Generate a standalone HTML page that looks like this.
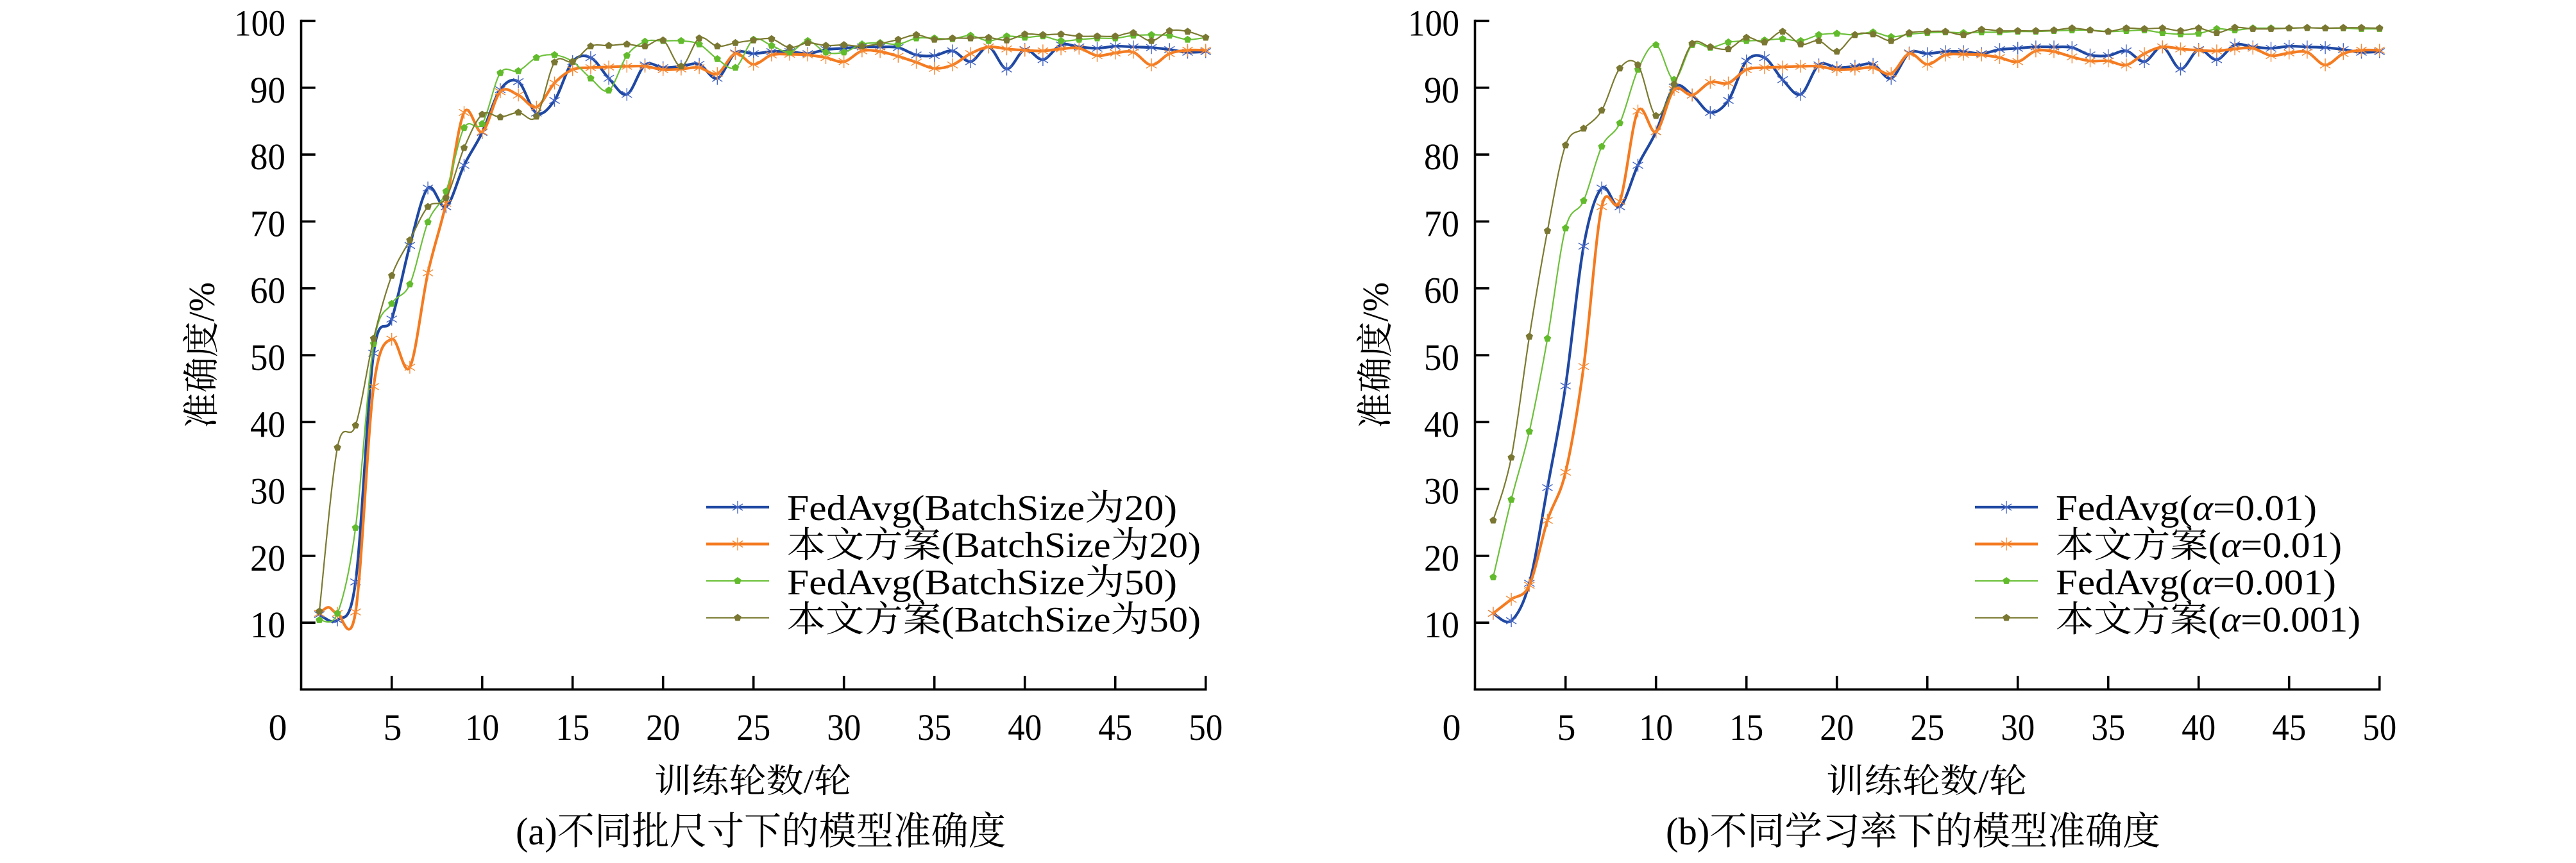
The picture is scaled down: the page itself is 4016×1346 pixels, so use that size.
<!DOCTYPE html>
<html>
<head>
<meta charset="utf-8">
<style>
html,body{margin:0;padding:0;background:#fff;}
svg{display:block;}
text{font-family:"Liberation Serif","Noto Serif CJK SC","Noto Serif CJK","Noto Serif SC","Noto Serif CJK JP",serif;fill:#000;}
</style>
</head>
<body>
<svg id="s" xmlns="http://www.w3.org/2000/svg" width="4016" height="1346" viewBox="0 0 4016 1346" font-family="'Liberation Serif','Noto Serif CJK SC','Noto Serif CJK','Noto Serif SC','Noto Serif CJK JP',serif">
<rect x="0" y="0" width="4016" height="1346" fill="#fff"/>

<!-- LEFT AXES -->
<g stroke="#000" fill="none" stroke-width="3.6">
  <line x1="469.5" y1="30.8" x2="469.5" y2="1077"/>
  <line x1="467.7" y1="1075.3" x2="1881.5" y2="1075.3"/>
  <line x1="469.5" y1="971.2" x2="491.7" y2="971.2"/>
  <line x1="469.5" y1="866.9" x2="491.7" y2="866.9"/>
  <line x1="469.5" y1="762.6" x2="491.7" y2="762.6"/>
  <line x1="469.5" y1="658.3" x2="491.7" y2="658.3"/>
  <line x1="469.5" y1="554.0" x2="491.7" y2="554.0"/>
  <line x1="469.5" y1="449.7" x2="491.7" y2="449.7"/>
  <line x1="469.5" y1="345.4" x2="491.7" y2="345.4"/>
  <line x1="469.5" y1="241.1" x2="491.7" y2="241.1"/>
  <line x1="469.5" y1="136.8" x2="491.7" y2="136.8"/>
  <line x1="469.5" y1="32.5" x2="491.7" y2="32.5"/>
  <line x1="610.7" y1="1054" x2="610.7" y2="1075"/>
  <line x1="751.7" y1="1054" x2="751.7" y2="1075"/>
  <line x1="892.7" y1="1054" x2="892.7" y2="1075"/>
  <line x1="1033.7" y1="1054" x2="1033.7" y2="1075"/>
  <line x1="1174.7" y1="1054" x2="1174.7" y2="1075"/>
  <line x1="1315.7" y1="1054" x2="1315.7" y2="1075"/>
  <line x1="1456.7" y1="1054" x2="1456.7" y2="1075"/>
  <line x1="1597.7" y1="1054" x2="1597.7" y2="1075"/>
  <line x1="1738.7" y1="1054" x2="1738.7" y2="1075"/>
  <line x1="1879.7" y1="1054" x2="1879.7" y2="1075"/>
</g>

<!-- RIGHT AXES -->
<g stroke="#000" fill="none" stroke-width="3.6">
  <line x1="2299.5" y1="30.8" x2="2299.5" y2="1077"/>
  <line x1="2297.7" y1="1075.3" x2="3711.5" y2="1075.3"/>
  <line x1="2299.5" y1="971.2" x2="2321.7" y2="971.2"/>
  <line x1="2299.5" y1="866.9" x2="2321.7" y2="866.9"/>
  <line x1="2299.5" y1="762.6" x2="2321.7" y2="762.6"/>
  <line x1="2299.5" y1="658.3" x2="2321.7" y2="658.3"/>
  <line x1="2299.5" y1="554.0" x2="2321.7" y2="554.0"/>
  <line x1="2299.5" y1="449.7" x2="2321.7" y2="449.7"/>
  <line x1="2299.5" y1="345.4" x2="2321.7" y2="345.4"/>
  <line x1="2299.5" y1="241.1" x2="2321.7" y2="241.1"/>
  <line x1="2299.5" y1="136.8" x2="2321.7" y2="136.8"/>
  <line x1="2299.5" y1="32.5" x2="2321.7" y2="32.5"/>
  <line x1="2440.7" y1="1054" x2="2440.7" y2="1075"/>
  <line x1="2581.7" y1="1054" x2="2581.7" y2="1075"/>
  <line x1="2722.7" y1="1054" x2="2722.7" y2="1075"/>
  <line x1="2863.7" y1="1054" x2="2863.7" y2="1075"/>
  <line x1="3004.7" y1="1054" x2="3004.7" y2="1075"/>
  <line x1="3145.7" y1="1054" x2="3145.7" y2="1075"/>
  <line x1="3286.7" y1="1054" x2="3286.7" y2="1075"/>
  <line x1="3427.7" y1="1054" x2="3427.7" y2="1075"/>
  <line x1="3568.7" y1="1054" x2="3568.7" y2="1075"/>
  <line x1="3709.7" y1="1054" x2="3709.7" y2="1075"/>
</g>

<!-- LEFT Y TICK LABELS -->
<g font-size="58" text-anchor="end">
  <text x="445" y="55.5" textLength="80" lengthAdjust="spacingAndGlyphs">100</text>
  <text x="445" y="159.8" textLength="55" lengthAdjust="spacingAndGlyphs">90</text>
  <text x="445" y="264.1" textLength="55" lengthAdjust="spacingAndGlyphs">80</text>
  <text x="445" y="368.4" textLength="55" lengthAdjust="spacingAndGlyphs">70</text>
  <text x="445" y="472.7" textLength="55" lengthAdjust="spacingAndGlyphs">60</text>
  <text x="445" y="577.0" textLength="55" lengthAdjust="spacingAndGlyphs">50</text>
  <text x="445" y="681.3" textLength="55" lengthAdjust="spacingAndGlyphs">40</text>
  <text x="445" y="785.6" textLength="55" lengthAdjust="spacingAndGlyphs">30</text>
  <text x="445" y="889.9" textLength="55" lengthAdjust="spacingAndGlyphs">20</text>
  <text x="445" y="994.2" textLength="55" lengthAdjust="spacingAndGlyphs">10</text>
</g>
<!-- RIGHT Y TICK LABELS -->
<g font-size="58" text-anchor="end">
  <text x="2275" y="55.5" textLength="80" lengthAdjust="spacingAndGlyphs">100</text>
  <text x="2275" y="159.8" textLength="55" lengthAdjust="spacingAndGlyphs">90</text>
  <text x="2275" y="264.1" textLength="55" lengthAdjust="spacingAndGlyphs">80</text>
  <text x="2275" y="368.4" textLength="55" lengthAdjust="spacingAndGlyphs">70</text>
  <text x="2275" y="472.7" textLength="55" lengthAdjust="spacingAndGlyphs">60</text>
  <text x="2275" y="577.0" textLength="55" lengthAdjust="spacingAndGlyphs">50</text>
  <text x="2275" y="681.3" textLength="55" lengthAdjust="spacingAndGlyphs">40</text>
  <text x="2275" y="785.6" textLength="55" lengthAdjust="spacingAndGlyphs">30</text>
  <text x="2275" y="889.9" textLength="55" lengthAdjust="spacingAndGlyphs">20</text>
  <text x="2275" y="994.2" textLength="55" lengthAdjust="spacingAndGlyphs">10</text>
</g>

<!-- LEFT X TICK LABELS -->
<g font-size="58" text-anchor="middle">
  <text x="433" y="1154">0</text>
  <text x="612" y="1154">5</text>
  <text x="751.7" y="1154" textLength="53" lengthAdjust="spacingAndGlyphs">10</text>
  <text x="892.7" y="1154" textLength="53" lengthAdjust="spacingAndGlyphs">15</text>
  <text x="1033.7" y="1154" textLength="53" lengthAdjust="spacingAndGlyphs">20</text>
  <text x="1174.7" y="1154" textLength="53" lengthAdjust="spacingAndGlyphs">25</text>
  <text x="1315.7" y="1154" textLength="53" lengthAdjust="spacingAndGlyphs">30</text>
  <text x="1456.7" y="1154" textLength="53" lengthAdjust="spacingAndGlyphs">35</text>
  <text x="1597.7" y="1154" textLength="53" lengthAdjust="spacingAndGlyphs">40</text>
  <text x="1738.7" y="1154" textLength="53" lengthAdjust="spacingAndGlyphs">45</text>
  <text x="1879.7" y="1154" textLength="53" lengthAdjust="spacingAndGlyphs">50</text>
</g>
<!-- RIGHT X TICK LABELS -->
<g font-size="58" text-anchor="middle">
  <text x="2263" y="1154">0</text>
  <text x="2442" y="1154">5</text>
  <text x="2581.7" y="1154" textLength="53" lengthAdjust="spacingAndGlyphs">10</text>
  <text x="2722.7" y="1154" textLength="53" lengthAdjust="spacingAndGlyphs">15</text>
  <text x="2863.7" y="1154" textLength="53" lengthAdjust="spacingAndGlyphs">20</text>
  <text x="3004.7" y="1154" textLength="53" lengthAdjust="spacingAndGlyphs">25</text>
  <text x="3145.7" y="1154" textLength="53" lengthAdjust="spacingAndGlyphs">30</text>
  <text x="3286.7" y="1154" textLength="53" lengthAdjust="spacingAndGlyphs">35</text>
  <text x="3427.7" y="1154" textLength="53" lengthAdjust="spacingAndGlyphs">40</text>
  <text x="3568.7" y="1154" textLength="53" lengthAdjust="spacingAndGlyphs">45</text>
  <text x="3709.7" y="1154" textLength="53" lengthAdjust="spacingAndGlyphs">50</text>
</g>

<!-- AXIS TITLES -->
<text x="1173.5" y="1236" font-size="52" text-anchor="middle" textLength="307" lengthAdjust="spacingAndGlyphs">训练轮数/轮</text>
<text x="3003.5" y="1236" font-size="52" text-anchor="middle" textLength="313" lengthAdjust="spacingAndGlyphs">训练轮数/轮</text>
<text transform="translate(333.5,554) rotate(-90)" font-size="57" text-anchor="middle" textLength="228" lengthAdjust="spacingAndGlyphs">准确度/%</text>
<text transform="translate(2163.5,554) rotate(-90)" font-size="57" text-anchor="middle" textLength="228" lengthAdjust="spacingAndGlyphs">准确度/%</text>

<!-- CAPTIONS -->
<text x="1186" y="1317" font-size="60" text-anchor="middle" textLength="764" lengthAdjust="spacingAndGlyphs">(a)不同批尺寸下的模型准确度</text>
<text x="2982.5" y="1317" font-size="60" text-anchor="middle" textLength="771" lengthAdjust="spacingAndGlyphs">(b)不同学习率下的模型准确度</text>

<!-- DATA LAYER -->
<g id="data"></g>

<!-- LEGENDS -->
<g stroke-linecap="butt">
  <line x1="1101" y1="791" x2="1199" y2="791" stroke="#1f48a3" stroke-width="4.2"/>
  <line x1="1101" y1="848.5" x2="1199" y2="848.5" stroke="#f47b20" stroke-width="4.2"/>
  <line x1="1101" y1="906" x2="1199" y2="906" stroke="#6cc03a" stroke-width="2.2"/>
  <line x1="1101" y1="963.5" x2="1199" y2="963.5" stroke="#7a7a30" stroke-width="2.2"/>
  <line x1="3079" y1="791" x2="3177" y2="791" stroke="#1f48a3" stroke-width="4.2"/>
  <line x1="3079" y1="848.5" x2="3177" y2="848.5" stroke="#f47b20" stroke-width="4.2"/>
  <line x1="3079" y1="906" x2="3177" y2="906" stroke="#6cc03a" stroke-width="2.2"/>
  <line x1="3079" y1="963.5" x2="3177" y2="963.5" stroke="#7a7a30" stroke-width="2.2"/>
</g>
<g id="legm"></g>
<g font-size="56">
  <text x="1227" y="811" textLength="608" lengthAdjust="spacingAndGlyphs">FedAvg(BatchSize为20)</text>
  <text x="1227" y="869" textLength="645" lengthAdjust="spacingAndGlyphs">本文方案(BatchSize为20)</text>
  <text x="1227" y="927" textLength="608" lengthAdjust="spacingAndGlyphs">FedAvg(BatchSize为50)</text>
  <text x="1227" y="985" textLength="645" lengthAdjust="spacingAndGlyphs">本文方案(BatchSize为50)</text>

  <text x="3205" y="811" textLength="407" lengthAdjust="spacingAndGlyphs">FedAvg(<tspan font-style="italic">α</tspan>=0.01)</text>
  <text x="3205" y="869" textLength="446" lengthAdjust="spacingAndGlyphs">本文方案(<tspan font-style="italic">α</tspan>=0.01)</text>
  <text x="3205" y="927" textLength="437" lengthAdjust="spacingAndGlyphs">FedAvg(<tspan font-style="italic">α</tspan>=0.001)</text>
  <text x="3205" y="985" textLength="475" lengthAdjust="spacingAndGlyphs">本文方案(<tspan font-style="italic">α</tspan>=0.001)</text>
</g>
</svg>

<script>
(function(){
var NS="http://www.w3.org/2000/svg";
function X(e,off){return 469.7+off+28.2*e;}
function Y(v){return 1075.5-10.43*v;}
function pathD(pts){
  var d="M"+pts[0][0].toFixed(1)+","+pts[0][1].toFixed(1);
  for(var i=0;i<pts.length-1;i++){
    var p0=pts[i>0?i-1:i],p1=pts[i],p2=pts[i+1],p3=pts[i+2<pts.length?i+2:i+1];
    var c1x=p1[0]+(p2[0]-p0[0])/6,c1y=p1[1]+(p2[1]-p0[1])/6;
    var c2x=p2[0]-(p3[0]-p1[0])/6,c2y=p2[1]-(p3[1]-p1[1])/6;
    d+=" C"+c1x.toFixed(1)+","+c1y.toFixed(1)+" "+c2x.toFixed(1)+","+c2y.toFixed(1)+" "+p2[0].toFixed(1)+","+p2[1].toFixed(1);
  }
  return d;
}
function el(tag,attrs,parent){var e=document.createElementNS(NS,tag);for(var k in attrs)e.setAttribute(k,attrs[k]);parent.appendChild(e);return e;}
function asterisk(x,y){
  return "M"+x+","+(y-10)+" V"+(y+10)+" M"+(x-8)+","+(y-5)+" L"+(x+8)+","+(y+5)+" M"+(x-8)+","+(y+5)+" L"+(x+8)+","+(y-5);
}
function pent(x,y,r){
  var s="";for(var k=0;k<5;k++){var a=(-90+72*k)*Math.PI/180;s+=(x+r*Math.cos(a)).toFixed(1)+","+(y+r*Math.sin(a)).toFixed(1)+" ";}
  return s;
}
var blueLate=[93.4,93.0,93.2,93.5,91.4,95.2,95.1,95.4,95.4,95.1,95.7,95.9,96.1,96.1,96.0,94.9,94.8,95.5,93.9,96.1,92.8,95.7,94.2,96.4,96.1,95.9,96.2,96.1,96.0,95.7,95.3,95.4];
var orangeLate=[93.2,92.7,92.8,93.0,92.1,95.1,93.5,94.9,95.0,94.9,94.5,93.9,95.5,95.4,94.7,93.8,92.9,93.4,95.1,96.1,95.8,95.6,95.5,95.8,95.9,94.8,95.2,95.3,93.4,95.1,95.6,95.6];
var orangeLateR=orangeLate.slice();orangeLateR[33-19]=94.6;orangeLateR[34-19]=94.0;orangeLateR[35-19]=94.0;orangeLateR[36-19]=93.4;

var C={blue:"#1f48a3",orange:"#f47b20",green:"#6cc03a",olive:"#7a7a30"};
var M={blue:"#4566c4",orange:"#f78a35",green:"#62bb2c",olive:"#7a7732"};

var series=[
 {off:0,key:"blue",w:4.2,m:"a",v:[11.2,10.4,16.1,50.3,55.4,66.4,75.0,72.2,78.4,83.3,89.7,90.9,86.2,88.1,93.9,94.5,91.4,89.0].concat(blueLate)},
 {off:0,key:"orange",w:4.2,m:"a",v:[11.4,11.4,11.6,45.3,52.4,48.2,62.3,72.7,86.3,83.4,89.4,88.9,87.1,90.7,92.7,93.0,93.1,93.2].concat(orangeLate),extra:[[1.5,12.3]]},
 {off:0,key:"green",w:2.2,m:"p",v:[10.4,11.4,24.2,51.7,57.7,60.6,69.9,74.5,84.0,84.6,92.2,92.5,94.5,94.9,93.9,91.4,89.6,94.8,96.9,97.0,97.0,96.5,94.3,93.0,97.2,96.3,95.3,97.0,95.3,95.3,96.5,96.7,96.5,97.4,97.4,97.3,97.8,97.0,97.7,97.5,97.7,97.0,97.2,97.4,97.4,97.8,97.9,97.8,97.2,97.5]},
 {off:0,key:"olive",w:2.2,m:"p",v:[11.7,36.2,39.5,52.5,61.9,67.2,72.2,73.5,81.0,86.0,85.6,86.3,85.7,93.8,93.9,96.2,96.3,96.5,96.2,97.1,93.2,97.4,96.2,96.7,97.1,97.3,96.0,96.7,96.3,96.4,96.2,96.6,97.2,97.9,97.2,97.4,97.4,97.5,97.1,98.0,97.9,98.0,97.7,97.7,97.7,98.2,97.0,98.5,98.4,97.5]},

 {off:1830,key:"blue",w:4.2,m:"a",v:[11.4,10.3,15.9,30.2,45.4,66.3,75.0,72.2,78.4,83.4,90.1,88.9,86.3,88.1,94.0,94.5,91.2,89.0].concat(blueLate)},
 {off:1830,key:"orange",w:4.2,m:"a",v:[11.4,13.5,15.6,25.3,32.5,48.3,72.2,73.0,86.5,83.4,89.7,88.9,90.8,90.7,92.7,93.0,93.1,93.2].concat(orangeLateR)},
 {off:1830,key:"green",w:2.2,m:"p",v:[16.8,28.4,38.6,52.5,69.0,73.1,81.2,84.7,92.7,96.4,91.2,96.4,96.0,96.8,97.0,97.1,97.3,97.0,97.9,98.1,97.9,98.3,97.6,98.0,98.2,98.3,98.2,98.3,98.3,98.4,98.4,98.5,98.6,98.6,98.4,98.5,98.6,98.2,98.0,98.1,98.8,98.6,98.9,98.9,98.9,98.96,98.9,98.9,98.8,98.8]},
 {off:1830,key:"olive",w:2.2,m:"p",v:[25.3,34.7,52.8,68.6,81.4,83.9,86.6,92.9,93.4,85.8,90.5,96.6,96.1,95.8,97.5,96.8,98.4,96.5,97.0,95.4,97.9,98.0,97.0,98.2,98.4,98.4,97.9,98.7,98.5,98.5,98.5,98.6,98.9,98.6,98.4,98.9,98.8,98.9,98.5,98.9,98.2,99.0,98.8,98.8,98.9,98.96,98.9,98.96,98.96,98.9]}
];

var g=document.getElementById("data");
series.forEach(function(s){
  var pts=[];
  for(var i=0;i<s.v.length;i++)pts.push([i+1,s.v[i]]);
  if(s.extra){pts=pts.concat(s.extra);pts.sort(function(a,b){return a[0]-b[0];});}
  var px=pts.map(function(p){return [X(p[0],s.off),Y(p[1])];});
  el("path",{d:pathD(px),fill:"none",stroke:C[s.key],"stroke-width":s.w,"stroke-linejoin":"round","stroke-linecap":"round"},g);
  var md="";
  for(var j=0;j<s.v.length;j++){
    var x=X(j+1,s.off),y=Y(s.v[j]);
    if(s.m==="a"){md+=asterisk(x.toFixed(1)*1,y.toFixed(1)*1)+" ";}
    else{el("polygon",{points:pent(x,y,6),fill:M[s.key]},g);}
  }
  if(s.m==="a")el("path",{d:md,fill:"none",stroke:M[s.key],"stroke-width":1.4},g);
});

var lg=document.getElementById("legm");
[1150,3128].forEach(function(x){
  el("path",{d:asterisk(x,791),fill:"none",stroke:M.blue,"stroke-width":1.4},lg);
  el("path",{d:asterisk(x,848.5),fill:"none",stroke:M.orange,"stroke-width":1.4},lg);
  el("polygon",{points:pent(x,906,6),fill:M.green},lg);
  el("polygon",{points:pent(x,963.5,6),fill:M.olive},lg);
});
})();
</script>
</body>
</html>
